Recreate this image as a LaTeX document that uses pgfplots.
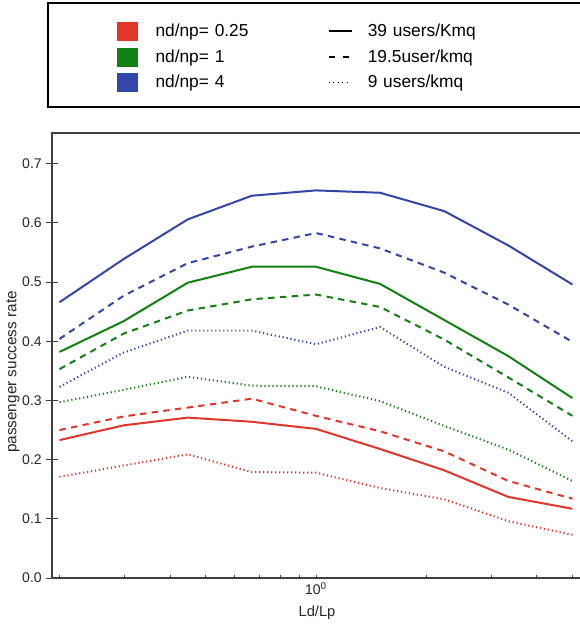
\documentclass[border=0pt]{standalone}
\usepackage{fontspec}
\setmainfont{Liberation Sans}
\usepackage{pgfplots}
\pgfplotsset{compat=1.18}
\definecolor{cred}{HTML}{E3362B}
\definecolor{cgreen}{HTML}{128012}
\definecolor{cblue}{HTML}{3245A8}

\begin{document}
\begin{tikzpicture}
\useasboundingbox (0pt,0pt) rectangle (435pt,469.5pt);
\clip (0pt,0pt) rectangle (435pt,469.5pt);
% legend frame
\draw[black, line width=1pt] (36pt,389.25pt) rectangle (445pt,467.25pt);
\begin{axis}[
  at={(39pt,36pt)}, anchor=south west,
  scale only axis, width=397.5pt, height=333.75pt,
  xmode=log, xmin=0.1908, xmax=5.31,
  ymin=0, ymax=0.752,
  clip=false,
  axis line style={draw=black!75, line width=0.9pt},
  xtick={0.2,0.3,0.4,0.5,0.6,0.7,0.8,0.9,1,2,3,4,5},
  xticklabels={,,,,,,,,10\textsuperscript{0},,,,},
  minor x tick num=0,
  major tick length=2.4pt,
  xtick align=inside, ytick align=center,
  xtick pos=bottom, ytick pos=left,
  tick style={draw=black!75, line width=0.7pt},
  ytick={0,0.1,0.2,0.3,0.4,0.5,0.6,0.7},
  extra y ticks={0,0.1,0.2,0.3,0.4,0.5,0.6,0.7},
  extra y tick labels={,,,,,,,},
  extra y tick style={major tick length=9.5pt},
  yticklabel style={xshift=-3pt, /pgf/number format/.cd, fixed, fixed zerofill, precision=1},
  /pgf/number format/assume math mode=true,
  ticklabel style={font=\fontsize{10.5}{12}\selectfont, text=black!85},
  xlabel={Ld/Lp}, ylabel={passenger success rate},
  every axis x label/.style={at={(axis description cs:0.5,-0.079)}, anchor=center,
    font=\fontsize{11}{13}\selectfont, text=black!85},
  every axis y label/.style={at={(axis description cs:-0.0736,0.463)}, rotate=90, anchor=center,
    font=\fontsize{11.5}{13}\selectfont, text=black!85},
  legend style={at={(0.1226,1.2573)}, anchor=north west, draw=none, fill=none,
    inner sep=0pt, outer sep=0pt, column sep=0pt, row sep=0pt,
    font=\fontsize{13}{15}\selectfont,
    nodes={inner sep=0pt, outer sep=0pt, text width=129pt, minimum height=18.75pt, align=left}},
  legend cell align=left, legend columns=3, transpose legend,
]
\addlegendimage{legend image code/.code={\path (0pt,-9.375pt) (28.5pt,9.375pt); \fill[cred] (0pt,-6.75pt) rectangle (15pt,6.75pt);}}
\addlegendentry{nd/np= 0.25}
\addlegendimage{legend image code/.code={\path (0pt,-9.375pt) (28.5pt,9.375pt); \fill[cgreen] (0pt,-6.75pt) rectangle (15pt,6.75pt);}}
\addlegendentry{nd/np= 1}
\addlegendimage{legend image code/.code={\path (0pt,-9.375pt) (28.5pt,9.375pt); \fill[cblue] (0pt,-6.75pt) rectangle (15pt,6.75pt);}}
\addlegendentry{nd/np= 4}
\addlegendimage{legend image code/.code={\path (0pt,-9.375pt) (29.25pt,9.375pt); \draw[black, line width=1.6pt] (0pt,0pt) -- (17.25pt,0pt);}}
\addlegendentry{39 users/Kmq}
\addlegendimage{legend image code/.code={\path (0pt,-9.375pt) (29.25pt,9.375pt); \draw[black, line width=1.6pt, dash pattern=on 4.5pt off 6pt] (0pt,0pt) -- (16pt,0pt);}}
\addlegendentry{19.5user/kmq}
\addlegendimage{legend image code/.code={\path (0pt,-9.375pt) (29.25pt,9.375pt); \draw[black, line width=1.2pt, dash pattern=on 0.9pt off 2.5pt] (0pt,0pt) -- (17pt,0pt);}}
\addlegendentry{9 users/kmq}
% nd/np = 0.25
\addplot[forget plot, cred, line width=1.5pt] coordinates {
(0.2,0.233) (0.2991,0.258) (0.4472,0.271) (0.6687,0.264) (1,0.252) (1.4953,0.218) (2.2361,0.182) (3.3437,0.137) (5,0.117)};
\addplot[forget plot, cred, line width=1.5pt, dash pattern=on 4.8pt off 4pt] coordinates {
(0.2,0.250) (0.2991,0.273) (0.4472,0.288) (0.6687,0.303) (1,0.274) (1.4953,0.248) (2.2361,0.214) (3.3437,0.164) (5,0.134)};
\addplot[forget plot, cred, line width=1.5pt, dash pattern=on 0.9pt off 2.1pt] coordinates {
(0.2,0.171) (0.2991,0.190) (0.4472,0.209) (0.6687,0.179) (1,0.178) (1.4953,0.152) (2.2361,0.133) (3.3437,0.096) (5,0.073)};
% nd/np = 1
\addplot[forget plot, cgreen, line width=1.5pt] coordinates {
(0.2,0.382) (0.2991,0.434) (0.4472,0.499) (0.6687,0.526) (1,0.526) (1.4953,0.497) (2.2361,0.436) (3.3437,0.375) (5,0.304)};
\addplot[forget plot, cgreen, line width=1.5pt, dash pattern=on 4.8pt off 4pt] coordinates {
(0.2,0.353) (0.2991,0.413) (0.4472,0.452) (0.6687,0.471) (1,0.479) (1.4953,0.458) (2.2361,0.403) (3.3437,0.339) (5,0.274)};
\addplot[forget plot, cgreen, line width=1.5pt, dash pattern=on 0.9pt off 2.1pt] coordinates {
(0.2,0.297) (0.2991,0.318) (0.4472,0.340) (0.6687,0.325) (1,0.324) (1.4953,0.299) (2.2361,0.257) (3.3437,0.217) (5,0.164)};
% nd/np = 4
\addplot[forget plot, cblue, line width=1.5pt] coordinates {
(0.2,0.466) (0.2991,0.539) (0.4472,0.606) (0.6687,0.646) (1,0.655) (1.4953,0.651) (2.2361,0.620) (3.3437,0.562) (5,0.496)};
\addplot[forget plot, cblue, line width=1.5pt, dash pattern=on 4.8pt off 4pt] coordinates {
(0.2,0.404) (0.2991,0.477) (0.4472,0.532) (0.6687,0.560) (1,0.583) (1.4953,0.557) (2.2361,0.516) (3.3437,0.462) (5,0.399)};
\addplot[forget plot, cblue, line width=1.5pt, dash pattern=on 0.9pt off 2.1pt] coordinates {
(0.2,0.323) (0.2991,0.381) (0.4472,0.418) (0.6687,0.418) (1,0.395) (1.4953,0.424) (2.2361,0.357) (3.3437,0.313) (5,0.231)};
\end{axis}
\end{tikzpicture}
\end{document}
